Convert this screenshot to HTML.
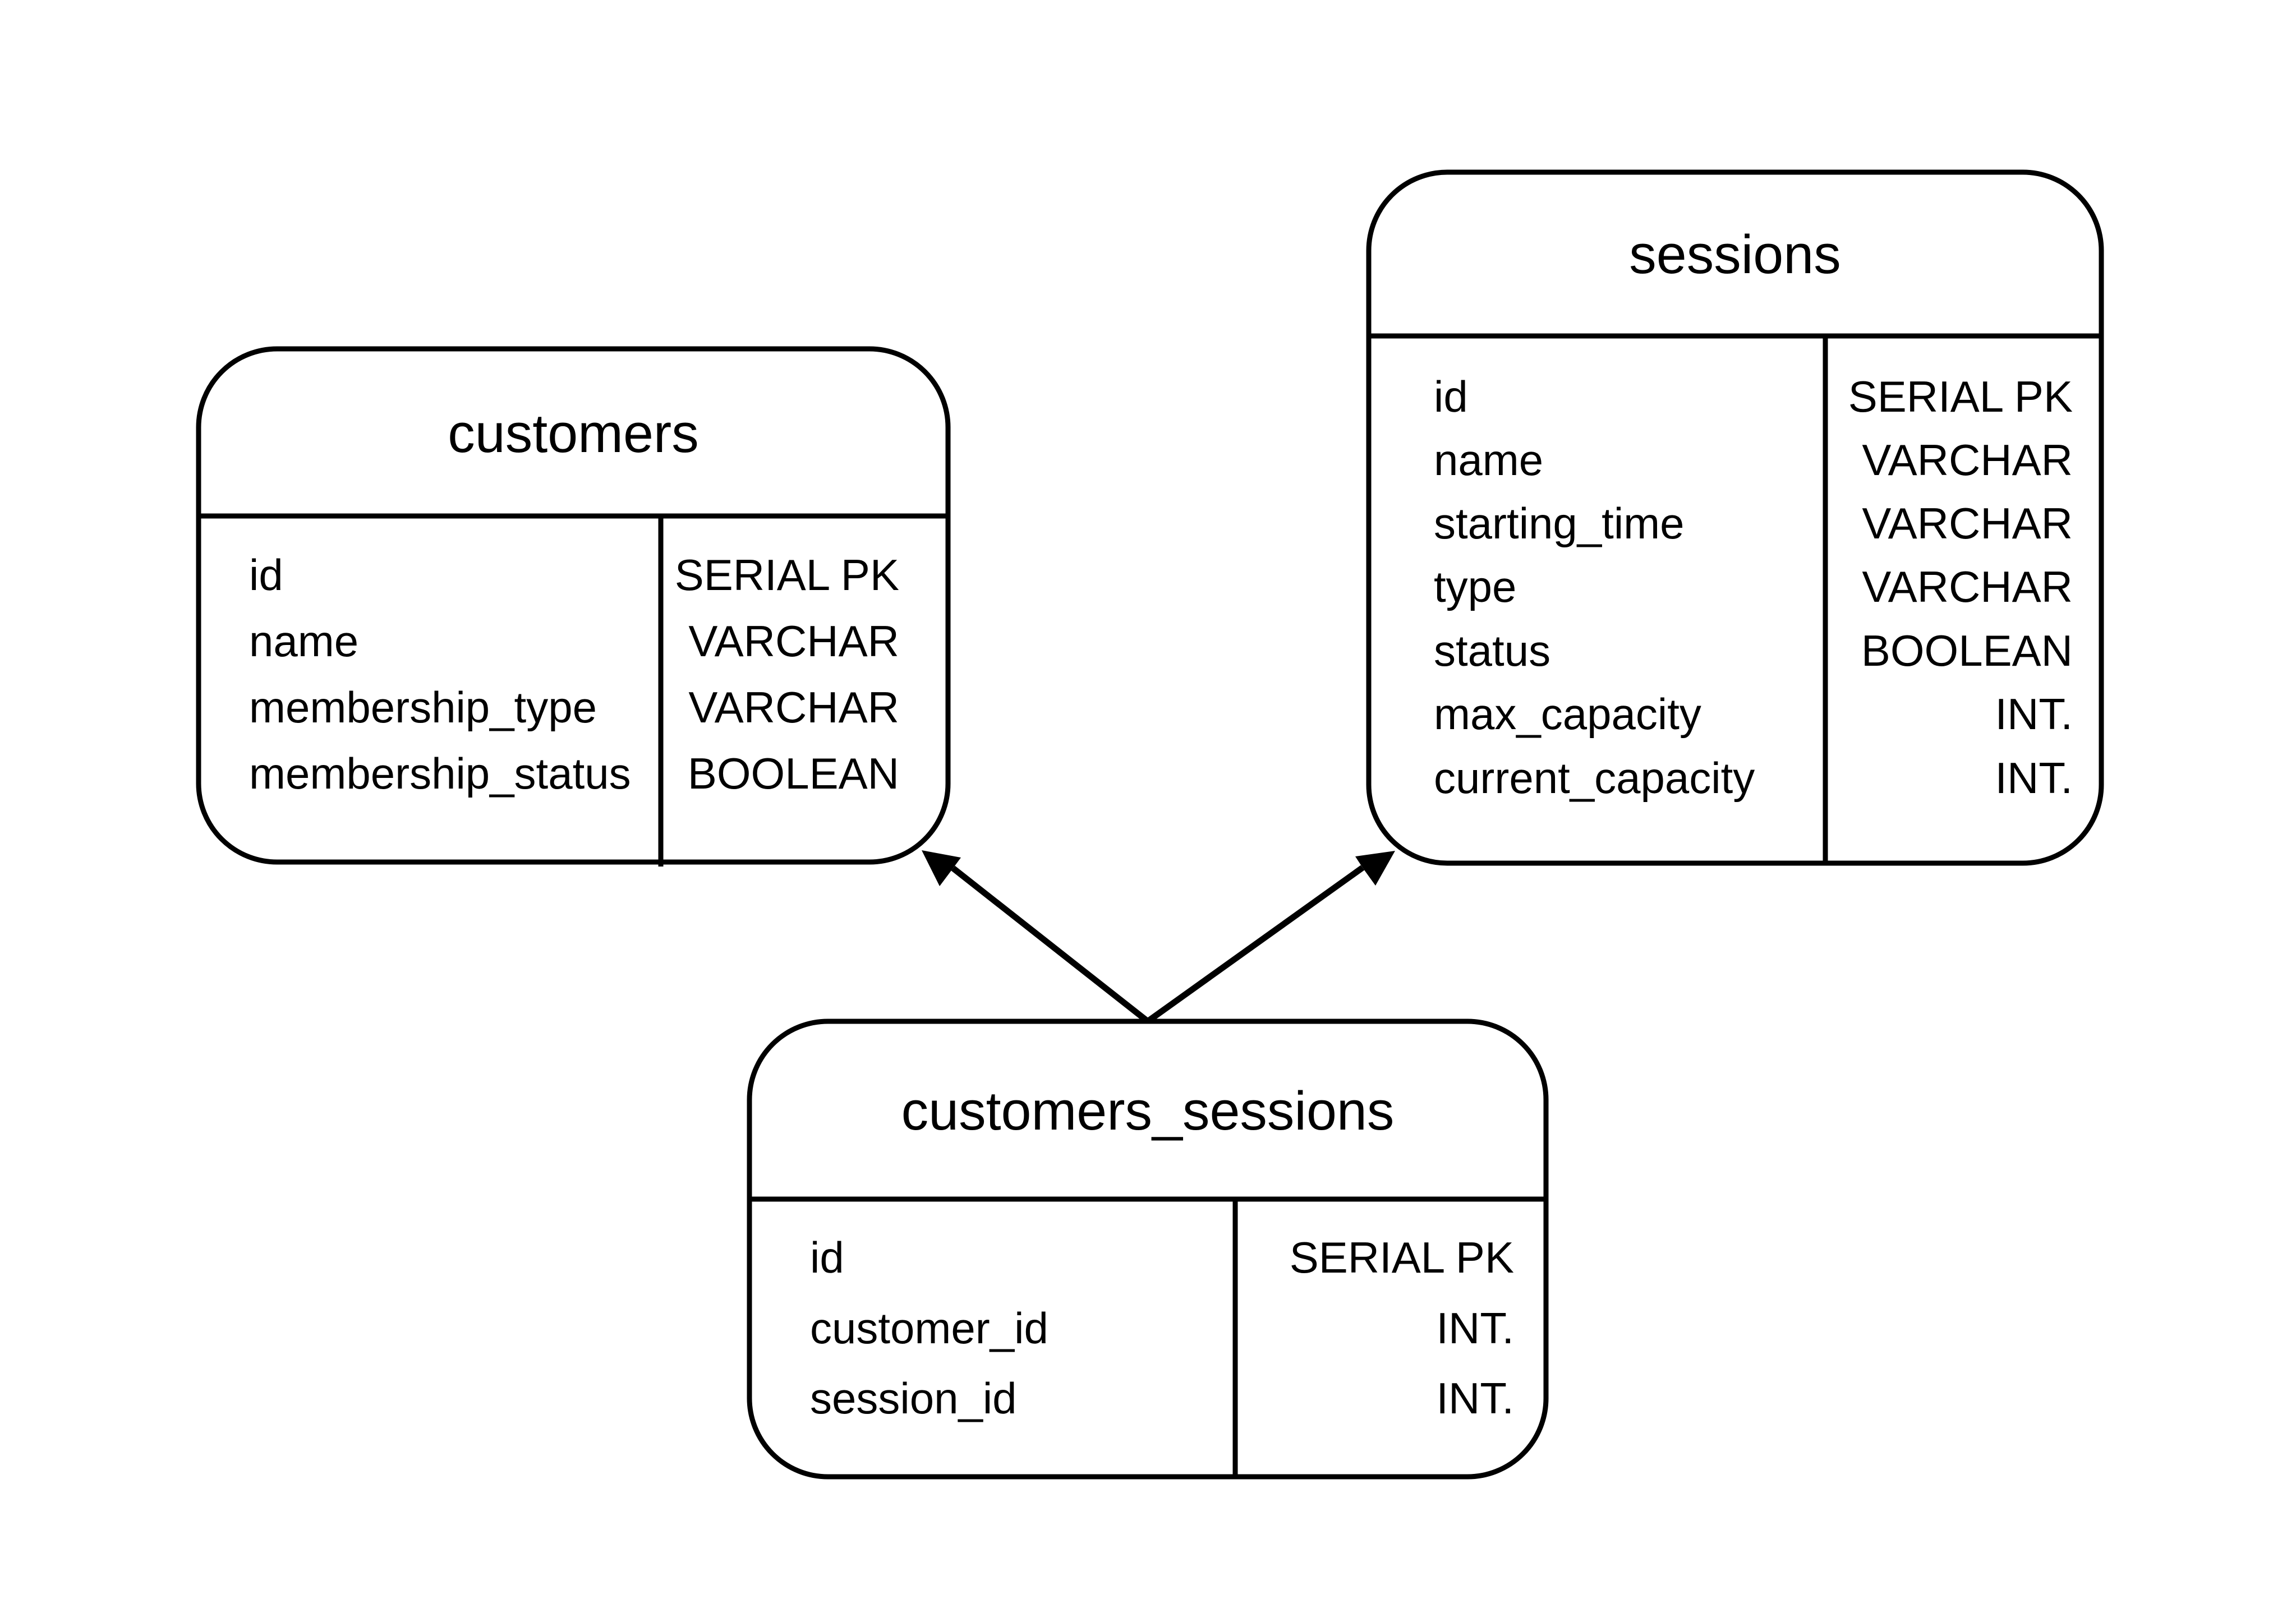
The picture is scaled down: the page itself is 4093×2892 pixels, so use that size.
<!DOCTYPE html>
<html><head><meta charset="utf-8"><style>html,body{margin:0;padding:0;background:#fff}svg{display:block}</style></head>
<body>
<svg width="4093" height="2892" viewBox="0 0 4093 2892" xmlns="http://www.w3.org/2000/svg" font-family="'Liberation Sans', sans-serif" fill="#000">
<rect width="4093" height="2892" fill="#fff"/>
<g fill="none" stroke="#000" stroke-width="9">
<!-- customers -->
<rect x="354" y="622" width="1336" height="915" rx="140" ry="140"/>
<line x1="354" y1="920" x2="1690" y2="920"/>
<line x1="1178" y1="920" x2="1178" y2="1545"/>
<!-- sessions -->
<rect x="2440" y="307" width="1306" height="1232" rx="140" ry="140"/>
<line x1="2440" y1="599" x2="3746" y2="599"/>
<line x1="3254" y1="599" x2="3254" y2="1539"/>
<!-- customers_sessions -->
<rect x="1336" y="1821" width="1420" height="812" rx="140" ry="140"/>
<line x1="1336" y1="2138" x2="2756" y2="2138"/>
<line x1="2202" y1="2138" x2="2202" y2="2633"/>
</g>
<g stroke="#000" stroke-width="11" fill="none">
<line x1="2046" y1="1821" x2="1699" y2="1548"/>
<line x1="2046" y1="1821" x2="2429" y2="1547"/>
</g>
<polygon points="1643,1516 1713,1529 1699,1548 1675,1580"/>
<polygon points="2487,1517 2452,1579 2429,1547 2416,1527"/>
<g font-size="97" text-anchor="middle">
<text x="1022" y="806">customers</text>
<text x="3093" y="487">sessions</text>
<text x="2046" y="2014">customers_sessions</text>
</g>
<g font-size="78">
<text x="444" y="1052">id</text>
<text x="444" y="1170">name</text>
<text x="444" y="1288">membership_type</text>
<text x="444" y="1406">membership_status</text>
<text x="2556" y="734">id</text>
<text x="2556" y="847">name</text>
<text x="2556" y="960">starting_time</text>
<text x="2556" y="1073">type</text>
<text x="2556" y="1187">status</text>
<text x="2556" y="1300">max_capacity</text>
<text x="2556" y="1414">current_capacity</text>
<text x="1444" y="2269">id</text>
<text x="1444" y="2395">customer_id</text>
<text x="1444" y="2520">session_id</text>
</g>
<g font-size="78" text-anchor="end">
<text x="1603" y="1052">SERIAL PK</text>
<text x="1603" y="1170">VARCHAR</text>
<text x="1603" y="1288">VARCHAR</text>
<text x="1603" y="1406">BOOLEAN</text>
<text x="3695" y="734">SERIAL PK</text>
<text x="3695" y="847">VARCHAR</text>
<text x="3695" y="960">VARCHAR</text>
<text x="3695" y="1073">VARCHAR</text>
<text x="3695" y="1187">BOOLEAN</text>
<text x="3695" y="1300">INT.</text>
<text x="3695" y="1414">INT.</text>
<text x="2699" y="2269">SERIAL PK</text>
<text x="2699" y="2395">INT.</text>
<text x="2699" y="2520">INT.</text>
</g>
</svg>
</body></html>
